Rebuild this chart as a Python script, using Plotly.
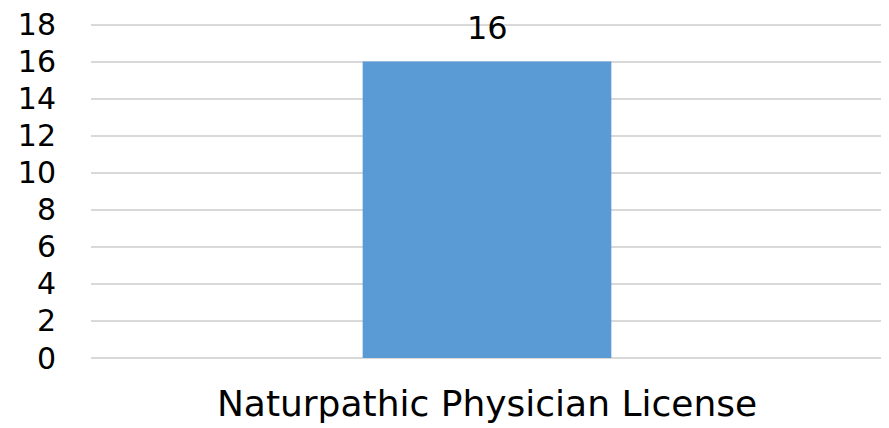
import plotly.graph_objects as go

categories = ["Naturpathic Physician License"]
values = [16]
y_ticks = [0, 2, 4, 6, 8, 10, 12, 14, 16, 18]

FONT = "DejaVu Sans"

fig = go.Figure()
fig.add_trace(go.Bar(
    x=categories, y=values,
    marker=dict(color="#5B9BD5", line=dict(width=0)),
))
for c, v in zip(categories, values):
    fig.add_annotation(x=c, y=v, text=str(v), showarrow=False,
                       yanchor="bottom", yshift=13,
                       font=dict(family=FONT, size=32, color="#000000"))

# page body has an 8px default margin; size the figure to fit the window
fig.update_layout(
    width=881, height=420,
    margin=dict(l=83, r=6, t=10.5, b=69.5),
    paper_bgcolor="white", plot_bgcolor="white",
    bargap=0.686,
    showlegend=False,
    font=dict(family=FONT, size=32, color="#000000"),
)
fig.update_yaxes(range=[0, 18.3], tickvals=y_ticks, showgrid=True,
                 gridcolor="#D9D9D9", gridwidth=2, zeroline=True,
                 zerolinecolor="#D9D9D9", zerolinewidth=2,
                 showline=False, ticks="", ticklabelstandoff=34,
                 ticklabeloverflow="allow",
                 automargin=False,
                 tickfont=dict(family=FONT, size=30, color="#000000"))
fig.update_xaxes(showgrid=False, showline=False, ticks="",
                 ticklabelstandoff=21, automargin=False,
                 tickfont=dict(family=FONT, size=36, color="#000000"))

fig.write_html("out.html")
